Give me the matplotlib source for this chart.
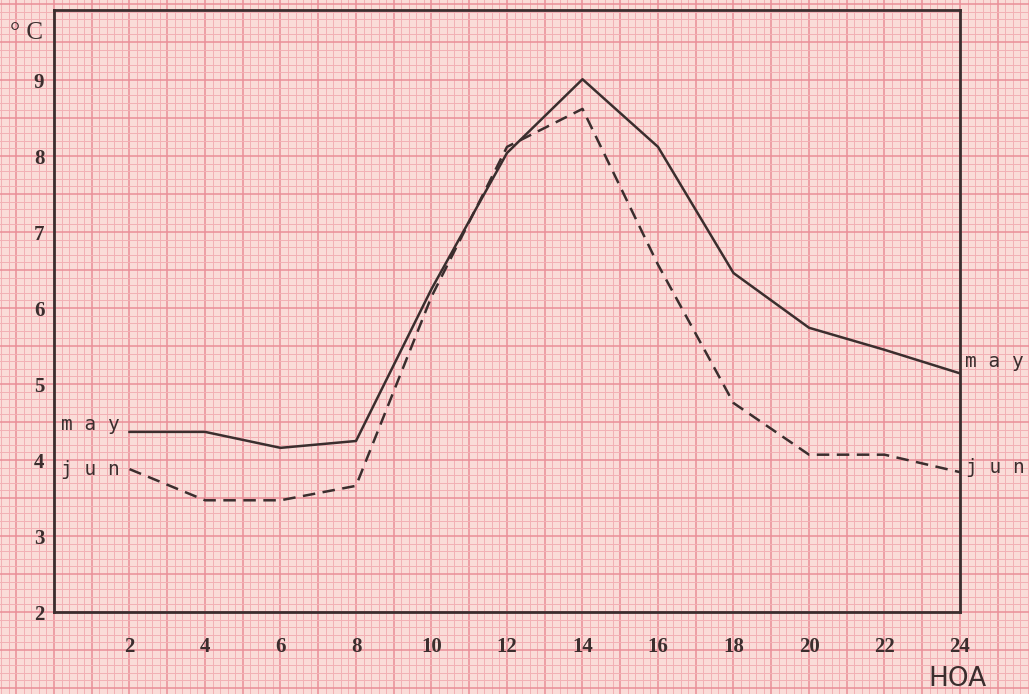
import numpy as np
import matplotlib
matplotlib.use('Agg')
import matplotlib.pyplot as plt

hours = [2, 4, 6, 8, 10, 12, 14, 16, 18, 20, 22, 24]
may = [4.37, 4.37, 4.16, 4.25, 6.25, 8.04, 9.01, 8.12, 6.46, 5.74, 5.45, 5.14]
jun = [3.88, 3.47, 3.47, 3.66, 6.15, 8.12, 8.62, 6.57, 4.75, 4.07, 4.07, 3.84]
yticks = [2, 3, 4, 5, 6, 7, 8, 9]

W, H = 1029, 694
# pixel box of the plot frame
L, R, T, B = 54, 960, 10, 612
pxh = (R - L) / 24.0   # pixels per hour
pxu = 76.0             # pixels per degree

fig = plt.figure(figsize=(W / 100, H / 100), dpi=100)
fig.patch.set_facecolor('#fadcd8')

# graph paper background
bg = fig.add_axes([0, 0, 1, 1])
bg.set_xlim(-L / pxh, (W - L) / pxh)
bg.set_ylim(2 - (H - B) / pxu, 2 + B / pxu)
bg.axis('off')
for v in np.arange(-2, 27, 0.2):
    strong = abs(v - round(v)) < 1e-6
    bg.axvline(v, color='#ea8e98' if strong else '#f2b0b4', lw=1.1 if strong else 0.7, zorder=0)
for v in np.arange(0.5, 10.5, 0.1):
    strong = abs(v * 2 - round(v * 2)) < 1e-6
    bg.axhline(v, color='#ea8e98' if strong else '#f2b0b4', lw=1.1 if strong else 0.7, zorder=0)

ax = fig.add_axes([L / W, (H - B) / H, (R - L) / W, (B - T) / H])
ax.patch.set_alpha(0)
ax.set_xlim(0, 24)
ax.set_ylim(2, 2 + (B - T) / pxu)
for s in ax.spines.values():
    s.set_color('#3b2e2e')
    s.set_linewidth(2)

ax.plot(hours, may, color='#3b2e2e', lw=1.8)
ax.plot(hours, jun, color='#3b2e2e', lw=1.8, linestyle=(0, (5, 3)))

ax.set_xticks(hours)
ax.set_xticklabels([str(h) for h in hours], family='Liberation Serif', fontweight='bold',
                   fontsize=15, color='#3b2e2e')
ax.set_yticks(yticks)
ax.set_yticklabels([str(v) for v in yticks], family='Liberation Serif', fontweight='bold',
                   fontsize=15, color='#3b2e2e')
ax.tick_params(axis='x', length=0, pad=18)
ax.tick_params(axis='y', length=0, pad=7)

mono = dict(family='DejaVu Sans Mono', fontsize=14, color='#3b2e2e')
ax.text(1.75, 4.47, 'm a y', ha='right', va='center', **mono)
ax.text(1.75, 3.88, 'j u n', ha='right', va='center', **mono)
ax.text(24.12, 5.29, 'm a y', ha='left', va='center', clip_on=False, **mono)
ax.text(24.15, 3.9, 'j u n', ha='left', va='center', clip_on=False, **mono)

fig.text(10 / W, 1 - 33 / H, '° C', ha='left', va='center', family='Liberation Serif',
         fontsize=18, color='#3b2e2e')
fig.text(957 / W, 1 - 679 / H, 'HOA', ha='center', va='center', family='Liberation Sans Narrow',
         fontsize=19, color='#3b2e2e')

fig.savefig('out.png', dpi=100, facecolor=fig.get_facecolor())
